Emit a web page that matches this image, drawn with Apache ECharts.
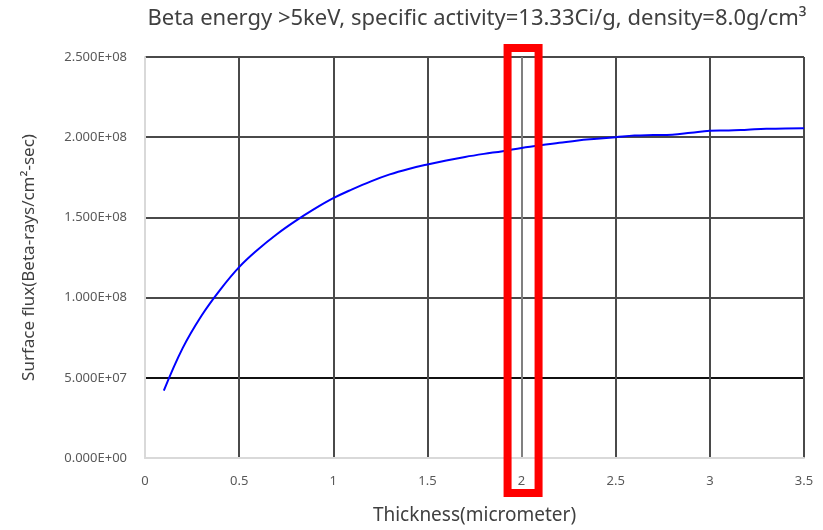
<!DOCTYPE html>
<html>
<head>
<meta charset="utf-8">
<script src="https://cdn.jsdelivr.net/npm/echarts@6/dist/echarts.min.js"></script>
<style>
  html, body { margin: 0; padding: 0; background: #fff; }
  #chart { width: 823px; height: 530px; }
</style>
</head>
<body>
<div id="chart"></div>
<script>
// thickness in micrometer
const thickness = [0.1, 0.2, 0.3, 0.4, 0.5, 0.6, 0.7, 0.8, 0.9, 1.0,
  1.1, 1.2, 1.3, 1.4, 1.5, 1.6, 1.7, 1.8, 1.9, 2.0,
  2.1, 2.2, 2.3, 2.4, 2.5, 2.6, 2.7, 2.8, 2.9, 3.0,
  3.1, 3.2, 3.3, 3.4, 3.5]
// surface flux, beta-rays/cm2-sec
const surfaceFlux = [4.2e7, 6.85e7, 8.87e7, 1.05e8, 1.19e8, 1.30e8, 1.395e8, 1.478e8, 1.553e8, 1.62e8,
  1.675e8, 1.725e8, 1.768e8, 1.802e8, 1.83e8, 1.855e8, 1.877e8, 1.896e8, 1.913e8, 1.933e8,
  1.95e8, 1.965e8, 1.98e8, 1.99e8, 2.0e8, 2.01e8, 2.013e8, 2.016e8, 2.028e8, 2.04e8,
  2.042e8, 2.047e8, 2.052e8, 2.055e8, 2.056e8]
const xTicks = [0, 0.5, 1, 1.5, 2, 2.5, 3, 3.5]
const yTicks = [0, 5e7, 1e8, 1.5e8, 2e8, 2.5e8]
const highlightX = 2

const font = '"Noto Sans", "DejaVu Sans", sans-serif'

// 0.000E+00 style labels
const sci = (v) => {
  if (v === 0) return '0.000E+00'
  const exp = Math.floor(Math.log10(Math.abs(v)))
  const mant = (v / Math.pow(10, exp)).toFixed(3)
  return mant + 'E+' + String(exp).padStart(2, '0')
}

const chart = echarts.init(document.getElementById('chart'))

const option = {
  animation: false,
  backgroundColor: '#fff',
  title: {
    text: 'Beta energy >5keV, specific activity=13.33Ci/g, density=8.0g/cm\u00b3',
    left: 472,
    textAlign: 'center',
    top: 3,
    textStyle: { fontFamily: font, fontSize: 22, fontWeight: 'normal', color: '#404040' }
  },
  grid: { left: 145, right: 19, top: 57, bottom: 70 },
  xAxis: {
    type: 'value',
    min: xTicks[0],
    max: xTicks[xTicks.length - 1],
    interval: 0.5,
    name: 'Thickness(micrometer)',
    nameLocation: 'middle',
    nameGap: 48,
    nameTextStyle: { fontFamily: font, fontSize: 19, color: '#404040' },
    axisLine: { show: true, lineStyle: { color: '#d9d9d9', width: 2 } },
    axisTick: { show: false },
    axisLabel: { fontFamily: font, fontSize: 13, color: '#595959', margin: 17 },
    splitLine: {
      show: true,
      lineStyle: {
        width: 2,
        color: ['#d9d9d9', '#4a4a4a', '#4a4a4a', '#4a4a4a', '#808080', '#4a4a4a', '#4a4a4a', '#4a4a4a']
      }
    }
  },
  yAxis: {
    type: 'value',
    min: yTicks[0],
    max: yTicks[yTicks.length - 1],
    interval: 5e7,
    name: 'Surface flux(Beta-rays/cm\u00b2-sec)',
    nameLocation: 'middle',
    nameGap: 107,
    nameTextStyle: { fontFamily: font, fontSize: 17, color: '#404040' },
    axisLine: { show: true, lineStyle: { color: '#d9d9d9', width: 2 } },
    axisTick: { show: false },
    axisLabel: { fontFamily: font, fontSize: 13, color: '#595959', margin: 18, formatter: sci },
    splitLine: {
      show: true,
      lineStyle: {
        width: 2,
        color: ['#d9d9d9', '#111', '#4a4a4a', '#4a4a4a', '#4a4a4a', '#4a4a4a']
      }
    }
  },
  series: [
    {
      type: 'line',
      data: thickness.map((t, i) => [t, surfaceFlux[i]]),
      showSymbol: false,
      smooth: 0.4,
      lineStyle: { color: '#0000ff', width: 2 }
    }
  ]
}

chart.setOption(option)

// red box around the x=2 gridline
const cx = chart.convertToPixel({ xAxisIndex: 0 }, highlightX)
const yTop = chart.convertToPixel({ yAxisIndex: 0 }, yTicks[yTicks.length - 1])
const yBot = chart.convertToPixel({ yAxisIndex: 0 }, yTicks[0])
chart.setOption({
  graphic: [
    {
      type: 'rect',
      shape: { x: cx - 14, y: yTop - 9, width: 31, height: yBot - yTop + 44 },
      style: { fill: 'none', stroke: '#ff0000', lineWidth: 8 },
      z: 100
    }
  ]
})
</script>
</body>
</html>
